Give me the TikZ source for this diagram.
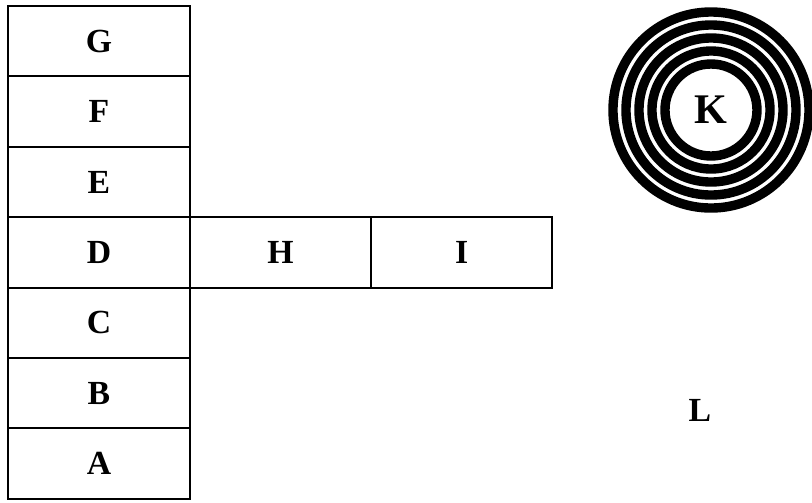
\documentclass[tikz,border=0pt]{standalone}
\usepackage{fontspec}
\setmainfont{Liberation Serif}

\tikzset{
  cell/.style={draw, line width=1.3pt, inner sep=0pt, outer sep=0pt,
    minimum width=4.55cm, minimum height=1.76cm,
    font=\fontsize{24}{28}\selectfont\bfseries},
  wide/.style={cell, minimum width=4.525cm},
  lbl/.style={font=\fontsize{24}{28}\selectfont\bfseries},
  ring/.style={line width=0.235cm},
}

\begin{document}
\begin{tikzpicture}[x=0.025cm,y=-0.025cm]
    \useasboundingbox (0,0) rectangle (812,502);

    % colonna
    \node[cell] (g) at (99,41.2) {G};
    \node[cell] (f) at (99,111.6) {F};
    \node[cell] (e) at (99,182) {E};
    \node[cell] (d) at (99,252.4) {D};
    \node[cell] (c) at (99,322.8) {C};
    \node[cell] (b) at (99,393.2) {B};
    \node[cell] (a) at (99,463.6) {A};

    % riga
    \node[wide,anchor=west] (h) at (d.east) {H};
    \node[wide,anchor=west] (i) at (h.east) {I};

    % cerchi
    \node[lbl,font=\fontsize{30}{34}\selectfont\bfseries] (k) at (711,110) {K};
    \draw[ring] (k.center) circle (2.45cm);
    \draw[ring] (k.center) circle (2.125cm);
    \draw[ring] (k.center) circle (1.8cm);
    \draw[ring] (k.center) circle (1.475cm);
    \draw[ring] (k.center) circle (1.15cm);

    \node[lbl] (l) at (700,410) {L};
\end{tikzpicture}
\end{document}
